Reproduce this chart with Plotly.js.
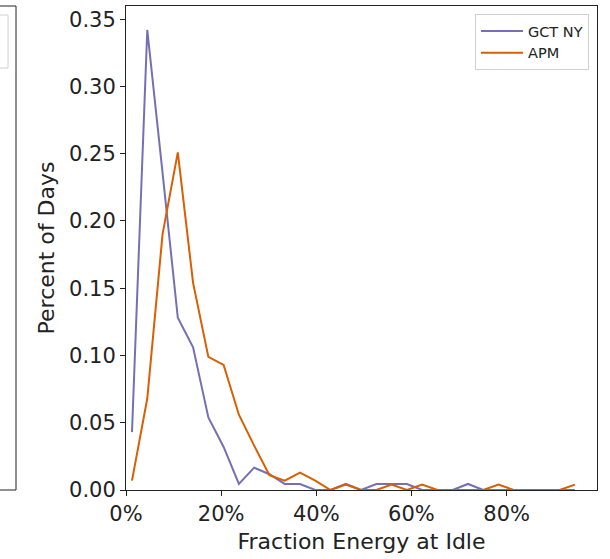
<!DOCTYPE html>
<html>
<head>
<meta charset="utf-8">
<script src="https://cdn.plot.ly/plotly-3.0.1.min.js"></script>
<style>html,body{margin:0;padding:0;background:#fff;}#chart{width:610px;height:559px;}</style>
</head>
<body>
<div id="chart"></div>
<script>
// Bin centres (fraction of energy at idle)
const binCenters = [0.0126, 0.0447, 0.0768, 0.1089, 0.1410, 0.1731, 0.2052, 0.2373, 0.2694, 0.3015,
                    0.3336, 0.3657, 0.3978, 0.4299, 0.4620, 0.4941, 0.5262, 0.5583, 0.5904, 0.6225,
                    0.6546, 0.6867, 0.7188, 0.7509, 0.7830, 0.8151, 0.8472, 0.8793, 0.9114, 0.9435];
// Percent of days, GCT NY
const gctNY = [0.043, 0.342, 0.236, 0.128, 0.106, 0.054, 0.032, 0.0045, 0.0166, 0.0117,
               0.0045, 0.0045, 0, 0, 0.0045, 0, 0.0045, 0.0045, 0.0045, 0,
               0, 0, 0.0045, 0, 0, 0, 0, 0, 0, 0];
// Percent of days, APM
const apm = [0.007, 0.068, 0.19, 0.251, 0.154, 0.099, 0.093, 0.056, 0.033, 0.011,
             0.007, 0.013, 0.007, 0, 0.004, 0, 0, 0.004, 0, 0.004,
             0, 0, 0, 0, 0.004, 0, 0, 0, 0, 0.004];
const seriesNames = ["GCT NY", "APM"];
const xTickVals = [0, 0.2, 0.4, 0.6, 0.8];
const yTickVals = [0, 0.05, 0.10, 0.15, 0.20, 0.25, 0.30, 0.35];

const FONT = "DejaVu Sans, sans-serif";
const traces = [
  {x: binCenters, y: gctNY, name: seriesNames[0], type: "scatter", mode: "lines",
   line: {color: "#7570b3", width: 2}},
  {x: binCenters, y: apm, name: seriesNames[1], type: "scatter", mode: "lines",
   line: {color: "#d95f02", width: 2}}
];

// pixel helpers for decorative fragment of neighbouring panel
const plotL = 126, plotR = 597, plotT = 6, plotB = 490;
const px = v => (v - plotL) / (plotR - plotL);
const py = v => (plotB - v) / (plotB - plotT);

const axisCommon = {
  showgrid: false, zeroline: false, showline: true, linecolor: "#222", linewidth: 1,
  mirror: true, ticks: "outside", ticklen: 5, tickwidth: 1, tickcolor: "#222",
  tickfont: {family: FONT, size: 21, color: "#222"}, automargin: false
};

const layout = {
  width: 610, height: 559,
  margin: {l: plotL, r: 610 - plotR, t: plotT, b: 559 - plotB},
  paper_bgcolor: "#fff", plot_bgcolor: "#fff",
  font: {family: FONT, color: "#222"},
  showlegend: true,
  legend: {x: px(589), y: py(14), xanchor: "right", yanchor: "top",
           bgcolor: "#fff", bordercolor: "#d0d0d0", borderwidth: 1, itemwidth: 42,
           font: {family: FONT, size: 14.5, color: "#222"}, tracegroupgap: 0},
  xaxis: Object.assign({}, axisCommon, {
    range: [0, 0.99], tickvals: xTickVals, tickformat: ".0%",
    title: {text: "Fraction Energy at Idle", font: {family: FONT, size: 22, color: "#222"}, standoff: 8}
  }),
  yaxis: Object.assign({}, axisCommon, {
    range: [0, 0.3598], tickvals: yTickVals, tickformat: ".2f",
    title: {text: "Percent of Days", font: {family: FONT, size: 22, color: "#222"}, standoff: 8}
  }),
  shapes: [
    {type: "rect", xref: "paper", yref: "paper", x0: px(-20), x1: px(16), y0: py(490), y1: py(6),
     line: {color: "#222", width: 1}, fillcolor: "rgba(0,0,0,0)"},
    {type: "rect", xref: "paper", yref: "paper", x0: px(-20), x1: px(8), y0: py(68), y1: py(15),
     line: {color: "#d0d0d0", width: 1}, fillcolor: "rgba(0,0,0,0)"}
  ]
};

Plotly.newPlot("chart", traces, layout, {displayModeBar: false, staticPlot: true});
</script>
</body>
</html>
